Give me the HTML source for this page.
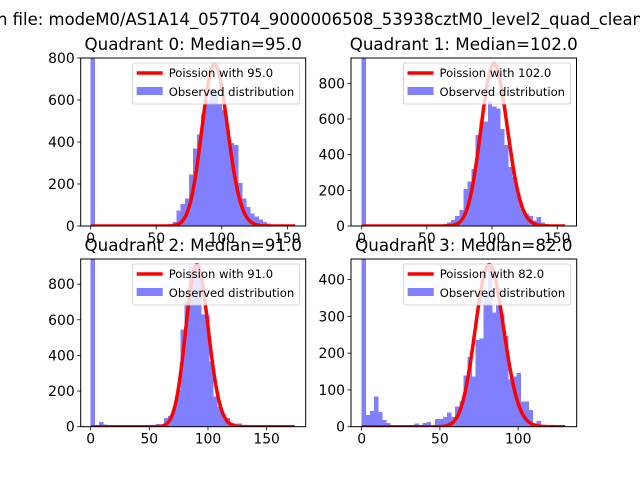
<!DOCTYPE html>
<html><head><meta charset="utf-8"><style>
html,body{margin:0;padding:0;background:#fff;}
svg{display:block;font-family:"DejaVu Sans","Liberation Sans",sans-serif;}
</style></head><body>
<svg id="fig" width="640" height="480" viewBox="0 0 640 480" xmlns="http://www.w3.org/2000/svg">
<rect width="640" height="480" fill="#fff"/>
<text x="-3" y="25" font-size="16.7" textLength="646" lengthAdjust="spacingAndGlyphs">n file: modeM0/AS1A14_057T04_9000006508_53938cztM0_level2_quad_clean</text>
</svg>
<script>
const q0Counts=[5000,0,0,0,0,0,0,0,0,0,0,0,0,0,0,0,0,2,3,8,20,75,105,130,245,370,435,530,600,655,640,580,555,455,395,385,205,130,90,60,45,30,20,12,8,5,3,2,1,1];
const q1Counts=[5000,0,0,0,0,0,0,0,0,0,0,0,0,0,0,0,0,0,5,8,12,20,35,55,90,207,250,320,510,585,585,700,670,660,545,455,330,275,180,95,70,55,30,50,20,10,5,2,1,1];
const q2Counts=[5000,5,25,12,0,0,0,0,0,0,0,0,0,0,0,0,15,8,50,60,110,207,545,700,900,895,900,630,630,367,170,113,66,50,22,18,18,5,3,2,1,1,0,0,0,0,0,0,0,0];
const q3Counts=[5000,32,43,82,40,18,10,3,2,2,0,0,3,9,3,10,13,3,21,21,27,38,27,55,68,139,190,137,236,240,360,440,310,330,306,247,128,137,146,68,68,46,9,16,3,2,1,0,0,0];
const medians=[95.0,102.0,91.0,82.0];
const binMax=[156,156,174,130];
const poissonScale=[18812,22990,21760,10010];
const xTicks=[[0,50,100,150],[0,50,100,150],[0,50,100,150],[0,50,100]];
const yTicks=[[0,200,400,600,800],[0,200,400,600,800],[0,200,400,600,800],[0,100,200,300,400]];
const xLims=[[-7.6,164],[-8.2,164.8],[-8.5,183.3],[-6.8,137.4]];
const yLims=[[0,800],[0,942],[0,941],[0,456]];
const counts=[q0Counts,q1Counts,q2Counts,q3Counts];
const boxes=[[80.7,58,225,168],[351,58,225.5,168],[80.7,259,225,167.7],[351,259,225.7,167.7]];
const NS='http://www.w3.org/2000/svg';
const svg=document.getElementById('fig');
function mk(tag,attrs,parent){const e=document.createElementNS(NS,tag);for(const k in attrs)e.setAttribute(k,attrs[k]);(parent||svg).appendChild(e);return e;}
function logPmf(k,l){let s=0;for(let i=2;i<=k;i++)s+=Math.log(i);return k*Math.log(l)-l-s;}
for(let q=0;q<4;q++){
  const [bx,by,bw,bh]=boxes[q];
  const g=mk('g',{});
  
  
  const xs=v=>bx+(v-xLims[q][0])/(xLims[q][1]-xLims[q][0])*bw;
  const ys=v=>by+bh-(v-yLims[q][0])/(yLims[q][1]-yLims[q][0])*bh;
  const clip=mk('clipPath',{id:'c'+q},g);mk('rect',{x:bx,y:by,width:bw,height:bh},clip);
  const plot=mk('g',{'clip-path':'url(#c'+q+')'},g);
  const n=counts[q].length,w=binMax[q]/n;
  counts[q].forEach((c,i)=>{
    if(c<=0)return;
    const y0=ys(Math.min(c,yLims[q][1]*1.05));
    const r=mk('rect',{x:xs(i*w),y:y0,width:xs((i+1)*w)-xs(i*w)+0.4,height:ys(0)-y0,fill:'#8080ff','shape-rendering':'crispEdges'},plot);
    
    
  });
  let pts=[];
  for(let k=0;k<=binMax[q];k++){pts.push(xs(k).toFixed(2)+','+ys(poissonScale[q]*Math.exp(logPmf(k,medians[q]))).toFixed(2));}
  const pl=mk('polyline',{points:pts.join(' '),fill:'none',stroke:'#ff0000','stroke-width':3.5,'stroke-linejoin':'round'},plot);
  
  
  const fr=mk('rect',{x:bx,y:by,width:bw,height:bh,fill:'none',stroke:'#000','stroke-width':1},g);
  
  
  xTicks[q].forEach(t=>{
    const x=xs(t);
    mk('line',{x1:x,x2:x,y1:by+bh,y2:by+bh+3.5,stroke:'#000','stroke-width':0.8},g);
    const tx=mk('text',{x:x,y:by+bh+17,'font-size':13.9,'text-anchor':'middle'},g);tx.textContent=t;
    
    
  });
  yTicks[q].forEach(t=>{
    const y=ys(t);
    mk('line',{x1:bx-3.5,x2:bx,y1:y,y2:y,stroke:'#000','stroke-width':0.8},g);
    const tx=mk('text',{x:bx-6,y:y+5,'font-size':13.9,'text-anchor':'end'},g);tx.textContent=t;
    
    
  });
  const ti=mk('text',{x:bx+bw/2,y:by-8,'font-size':16.7,'text-anchor':'middle'},g);
  ti.textContent='Quadrant '+q+': Median='+medians[q].toFixed(1);
  
  
  const lg=mk('g',{},g);
  
  
  const lx=bx+bw-173,ly=by+5;
  mk('rect',{x:lx,y:ly,width:167,height:41,rx:2,fill:'#fff','fill-opacity':0.8,stroke:'#ccc','stroke-width':0.8},lg);
  mk('line',{x1:lx+4,x2:lx+30,y1:ly+10,y2:ly+10,stroke:'#ff0000','stroke-width':3.5},lg);
  mk('rect',{x:lx+4,y:ly+24,width:26,height:8,fill:'#8080ff'},lg);
  const t1=mk('text',{x:lx+36,y:ly+14,'font-size':11.6},lg);t1.textContent='Poission with '+medians[q].toFixed(1);
  
  
  const t2=mk('text',{x:lx+36,y:ly+33,'font-size':11.6},lg);t2.textContent='Observed distribution';
  
  
}
</script>
</body></html>
